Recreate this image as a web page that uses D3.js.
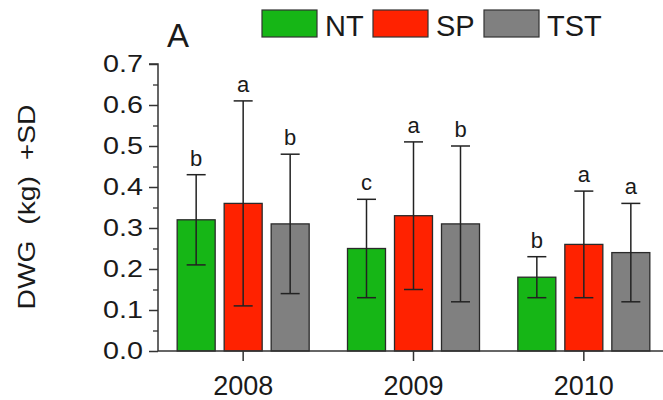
<!DOCTYPE html>
<html>
<head>
<meta charset="utf-8">
<script src="https://cdn.jsdelivr.net/npm/d3@7"></script>
<style>
  html, body { margin: 0; padding: 0; background: #fff; }
  svg { display: block; }
  text { font-family: "Liberation Sans", Arial, sans-serif; fill: #1a1a1a; }
</style>
</head>
<body>
<svg id="chart" width="663" height="400"></svg>
<script>
const years = ["2008", "2009", "2010"];
const seriesNames = ["NT", "SP", "TST"];
const seriesColors = ["#16b616", "#ff2200", "#808080"];
const ntMeans = [0.32, 0.25, 0.18];
const ntSD = [0.11, 0.12, 0.05];
const spMeans = [0.36, 0.33, 0.26];
const spSD = [0.25, 0.18, 0.13];
const tstMeans = [0.31, 0.31, 0.24];
const tstSD = [0.17, 0.19, 0.12];
const ntLetters = ["b", "c", "b"];
const spLetters = ["a", "a", "a"];
const tstLetters = ["b", "b", "a"];
const yTicks = [0.0, 0.1, 0.2, 0.3, 0.4, 0.5, 0.6, 0.7];
const yMinorTicks = [0.05, 0.15, 0.25, 0.35, 0.45, 0.55, 0.65];

const means = [ntMeans, spMeans, tstMeans];
const sds = [ntSD, spSD, tstSD];
const letters = [ntLetters, spLetters, tstLetters];

const data = [];
seriesNames.forEach((s, si) => {
  years.forEach((yr, yi) => {
    data.push({ year: yr, series: s, si, mean: means[si][yi], sd: sds[si][yi], letter: letters[si][yi] });
  });
});

const svg = d3.select("#chart");
const axisX0 = 158, baseY = 351, topY = 64;

const x0 = d3.scaleBand().domain(years).range([axisX0, 669]).padding(0);
const groupW = 132;
const x1 = d3.scaleBand().domain(seriesNames).range([0, groupW]).paddingInner(9 / 47).paddingOuter(0);
const y = d3.scaleLinear().domain([0, 0.7]).range([baseY, topY]);
const color = d3.scaleOrdinal().domain(seriesNames).range(seriesColors);

const barX = d => x0(d.year) + x0.bandwidth() / 2 - groupW / 2 + x1(d.series);

// Bars
svg.append("g").selectAll("rect").data(data).join("rect")
  .attr("x", d => barX(d))
  .attr("y", d => y(d.mean))
  .attr("width", x1.bandwidth())
  .attr("height", d => y(0) - y(d.mean))
  .attr("fill", d => color(d.series))
  .attr("stroke", "#2a2a2a")
  .attr("stroke-width", 1.3);

// Error bars
const capW = 19;
const eg = svg.append("g").attr("stroke", "#222").attr("stroke-width", 1.5);
data.forEach(d => {
  const cx = barX(d) + x1.bandwidth() / 2;
  const hi = y(d.mean + d.sd), lo = y(d.mean - d.sd);
  eg.append("line").attr("x1", cx).attr("x2", cx).attr("y1", hi).attr("y2", lo);
  eg.append("line").attr("x1", cx - capW / 2).attr("x2", cx + capW / 2).attr("y1", hi).attr("y2", hi);
  eg.append("line").attr("x1", cx - capW / 2).attr("x2", cx + capW / 2).attr("y1", lo).attr("y2", lo);
});

// Significance letters
svg.append("g").selectAll("text").data(data).join("text")
  .attr("x", d => barX(d) + x1.bandwidth() / 2)
  .attr("y", d => y(d.mean + d.sd) - 9)
  .attr("text-anchor", "middle")
  .attr("font-size", 22)
  .text(d => d.letter);

// Y axis
const yAxis = d3.axisLeft(y).tickValues(yTicks).tickFormat(d3.format(".1f")).tickSize(9).tickPadding(6);
const yg = svg.append("g").attr("transform", `translate(${axisX0},0)`).call(yAxis);
yg.select(".domain").attr("stroke", "#333").attr("stroke-width", 1.5).attr("d", `M-9,${topY}H0V${baseY}`);
yg.selectAll(".tick line").attr("stroke", "#333").attr("stroke-width", 1.5);
yg.selectAll(".tick text").attr("font-size", 24).attr("fill", "#1a1a1a")
  .attr("textLength", 40).attr("lengthAdjust", "spacingAndGlyphs")
  .style("font-family", "'Liberation Sans', Arial, sans-serif");
const ymg = svg.append("g").attr("transform", `translate(${axisX0},0)`)
  .call(d3.axisLeft(y).tickValues(yMinorTicks).tickSize(5).tickFormat(""));
ymg.select(".domain").remove();
ymg.selectAll(".tick line").attr("stroke", "#333").attr("stroke-width", 1.3);

// X axis
const xg = svg.append("g").attr("transform", `translate(0,${baseY})`)
  .call(d3.axisBottom(x0).tickSize(10).tickPadding(15));
xg.select(".domain").attr("stroke", "#333").attr("stroke-width", 1.5).attr("d", `M${axisX0},0H663`);
xg.selectAll(".tick line").attr("stroke", "#333").attr("stroke-width", 1.5);
xg.selectAll(".tick text").attr("font-size", 27).attr("fill", "#1a1a1a")
  .style("font-family", "'Liberation Sans', Arial, sans-serif");

// Y label
svg.append("text")
  .attr("transform", "translate(35,207) rotate(-90)")
  .attr("text-anchor", "middle")
  .attr("font-size", 24)
  .style("white-space", "pre")
  .attr("textLength", 205).attr("lengthAdjust", "spacingAndGlyphs")
  .text("DWG  (kg)  +SD");

// Panel label
svg.append("text").attr("x", 167).attr("y", 47).attr("font-size", 33).text("A");

// Legend
const legendX = [262, 373, 484];
const lg = svg.append("g");
seriesNames.forEach((s, i) => {
  lg.append("rect").attr("x", legendX[i]).attr("y", 10).attr("width", 55).attr("height", 27)
    .attr("fill", color(s)).attr("stroke", "#333").attr("stroke-width", 1.2);
  lg.append("text").attr("x", legendX[i] + 63).attr("y", 36).attr("font-size", 29).text(s);
});
</script>
</body>
</html>
